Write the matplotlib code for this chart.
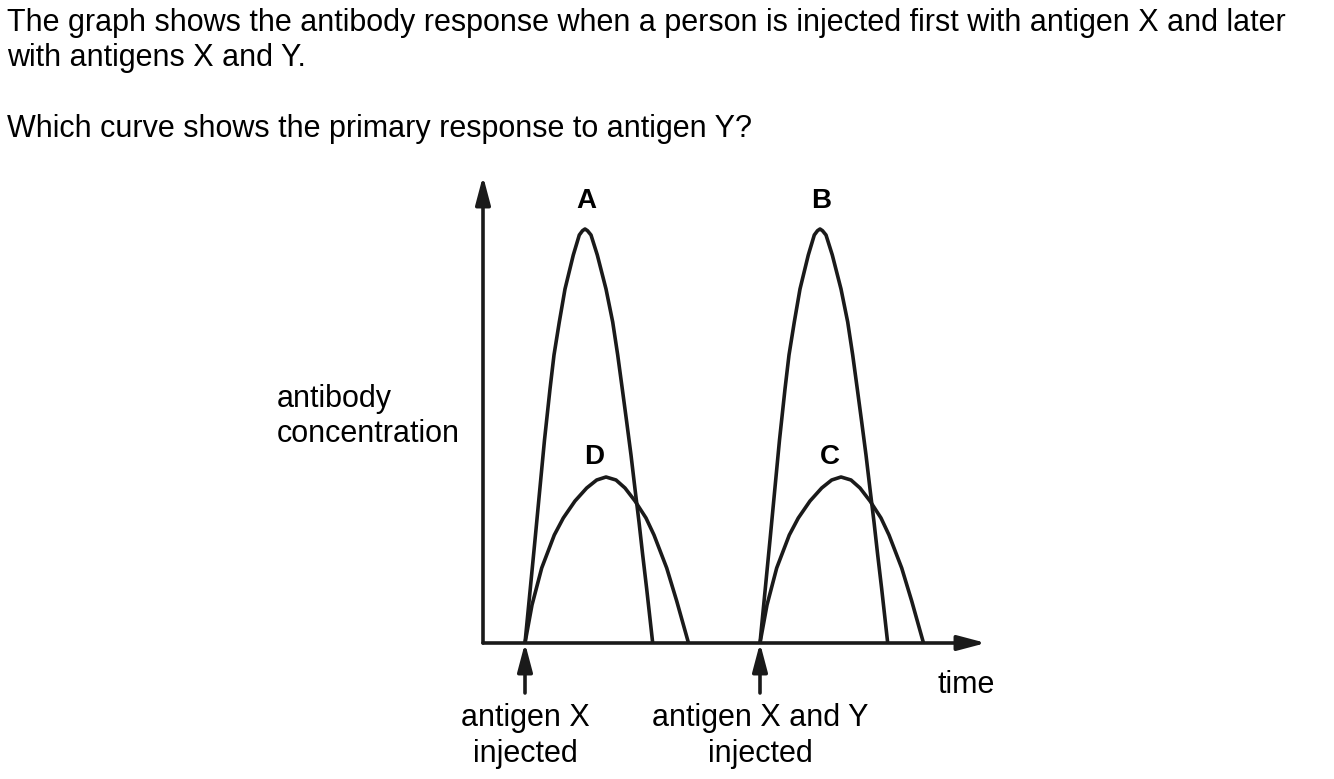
import matplotlib
matplotlib.use("Agg")
import matplotlib.pyplot as plt

plt.rcParams['font.family'] = ['Liberation Sans', 'DejaVu Sans']

W, H = 1334, 779
INK = '#1a1a1a'

# curves: time (arbitrary units) vs antibody concentration
a_time = [42, 52, 61.5, 67, 71, 76.3, 82, 90.3, 96.3, 99.5, 102, 104.5, 108, 114.3, 123,
          129.7, 134.7, 139.3, 143.7, 148, 152, 156, 159.7, 163.7, 169.7]
a_conc = [0, 103, 203, 254, 288, 321, 354, 388, 408, 412.3, 414, 412.3, 408, 388, 354,
          321, 288, 254, 221, 188, 154, 121, 88, 54, 0]

b_time = [277, 287, 296.5, 302, 306, 311.3, 317, 325.3, 331.3, 334.5, 337, 339.5, 343, 349.3, 358,
          364.7, 369.7, 374.3, 378.7, 383, 387, 391, 394.7, 398.7, 404.7]
b_conc = [0, 103, 203, 254, 288, 321, 354, 388, 408, 412.3, 414, 412.3, 408, 388, 354,
          321, 288, 254, 221, 188, 154, 121, 88, 54, 0]

d_time = [42, 49, 58.7, 71.3, 80.3, 92, 103.7, 113.7, 123, 133, 142, 152, 163, 171, 183.7, 193.7, 205.5]
d_conc = [0, 38, 75, 108, 125, 142, 155, 163, 166, 163, 155, 142, 125, 108, 75, 42, 0]

c_time = [277, 284, 293.7, 306.3, 315.3, 327, 338.7, 348.7, 358, 368, 377, 387, 398, 406, 418.7, 428.7, 440.5]
c_conc = [0, 38, 75, 108, 125, 142, 155, 163, 166, 163, 155, 142, 125, 108, 75, 42, 0]

injections = [42, 277]
injection_labels = ['antigen X\ninjected', 'antigen X and Y\ninjected']
curve_labels = ['A', 'B', 'C', 'D']

question = ["The graph shows the antibody response when a person is injected first with antigen X and later",
            "with antigens X and Y.",
            "Which curve shows the primary response to antigen Y?"]

fig = plt.figure(figsize=(W / 100, H / 100), dpi=100)
ax = fig.add_axes([0, 0, 1, 1])
# axis origin sits at pixel (483, 643)
ox, oy = 483, 643
ax.set_xlim(-ox, W - ox)
ax.set_ylim(oy - H, oy)
ax.axis('off')


def fx(px):
    return px / W


def fy(py):
    return 1 - py / H


for t, c in [(a_time, a_conc), (b_time, b_conc), (d_time, d_conc), (c_time, c_conc)]:
    ax.plot(t, c, color=INK, lw=2.6, solid_capstyle='butt', solid_joinstyle='round')

arrow = dict(arrowstyle='-|>,head_length=1.7,head_width=0.45', mutation_scale=10,
             color=INK, lw=2.6, shrinkA=0, shrinkB=0)
ax.annotate('', xy=(0, oy - 176), xytext=(0, 0), arrowprops=arrow)
ax.annotate('', xy=(986 - ox, 0), xytext=(0, 0), arrowprops=arrow)
for t in injections:
    ax.annotate('', xy=(t, 0), xytext=(t, oy - 693), arrowprops=arrow)

fs = 22
fig.text(fx(7), fy(23), question[0], fontsize=fs, va='center', ha='left')
fig.text(fx(7), fy(58), question[1], fontsize=fs, va='center', ha='left')
fig.text(fx(7), fy(129), question[2], fontsize=fs, va='center', ha='left')

fig.text(fx(277), fy(399), 'antibody', fontsize=fs, va='center', ha='left')
fig.text(fx(277), fy(434), 'concentration', fontsize=fs, va='center', ha='left')
fig.text(fx(966), fy(685), 'time', fontsize=fs, va='center', ha='center')

for t, lab in zip(injections, injection_labels):
    l1, l2 = lab.split('\n')
    fig.text(fx(t + ox), fy(718), l1, fontsize=fs, va='center', ha='center')
    fig.text(fx(t + ox), fy(754), l2, fontsize=fs, va='center', ha='center')

label_pos = {'A': (586, 201), 'B': (821, 201), 'C': (830, 457), 'D': (594, 457)}
for lab in curve_labels:
    px, py = label_pos[lab]
    fig.text(fx(px), fy(py), lab, fontsize=20, fontweight='bold', va='center', ha='center')

fig.savefig('out.png', dpi=100)
